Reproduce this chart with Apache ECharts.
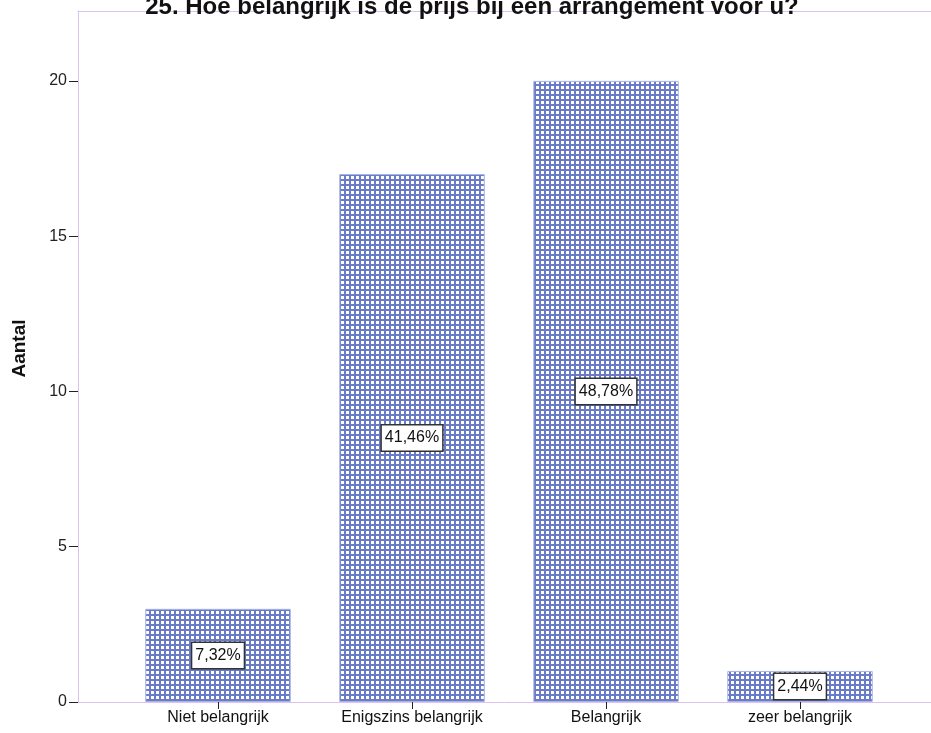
<!DOCTYPE html>
<html>
<head>
<meta charset="utf-8">
<script src="https://cdn.jsdelivr.net/npm/echarts@6/dist/echarts.min.js"></script>
<style>
  html, body { margin: 0; padding: 0; background: #fff; }
  #chart { width: 931px; height: 733px; }
</style>
</head>
<body>
<div id="chart"></div>
<script>
const categories = ["Niet belangrijk", "Enigszins belangrijk", "Belangrijk", "zeer belangrijk"];
const counts = [3, 17, 20, 1];
const percentLabels = ["7,32%", "41,46%", "48,78%", "2,44%"];
const yTicks = [0, 5, 10, 15, 20];

// checkered fill like the SPSS bar pattern
const tile = document.createElement("canvas");
tile.width = 5;
tile.height = 5;
const ctx = tile.getContext("2d");
ctx.fillStyle = "#6a7cc8";
ctx.fillRect(0, 0, 5, 5);
ctx.fillStyle = "#ffffff";
ctx.fillRect(1, 1, 3, 3);

const font = "Liberation Sans";
const frameColor = "#dcc2ee";
const yMax = 22.25;

const chart = echarts.init(document.getElementById("chart"));
chart.setOption({
  animation: false,
  textStyle: { fontFamily: font },
  title: {
    text: "25. Hoe belangrijk is de prijs bij een arrangement voor u?",
    left: 467,
    textAlign: "center",
    top: -10,
    textStyle: { fontFamily: font, fontSize: 24, fontWeight: "bold", color: "#111" },
  },
  grid: [
    { left: 78, right: 0, top: 11, bottom: 31, containLabel: false },
    { left: 121, right: 34, top: 11, bottom: 31, containLabel: false },
  ],
  xAxis: [
    {
      gridIndex: 0, type: "value", min: 0, max: 1, position: "bottom",
      axisLine: { show: true, lineStyle: { color: frameColor } },
      axisTick: { show: false }, axisLabel: { show: false }, splitLine: { show: false },
    },
    {
      gridIndex: 0, type: "value", min: 0, max: 1, position: "top",
      axisLine: { show: true, lineStyle: { color: frameColor } },
      axisTick: { show: false }, axisLabel: { show: false }, splitLine: { show: false },
    },
    {
      gridIndex: 1,
      type: "category",
      data: categories,
      axisLine: { show: false },
      axisTick: { show: true, alignWithLabel: true, length: 7, lineStyle: { color: "#222" } },
      axisLabel: { color: "#111", fontSize: 16, margin: 8 },
    },
  ],
  yAxis: [
    {
      gridIndex: 0,
      type: "value",
      min: 0,
      max: yMax,
      interval: 5,
      name: "Aantal",
      nameLocation: "middle",
      nameGap: 49,
      nameTextStyle: { fontFamily: font, fontSize: 19, fontWeight: "bold", color: "#111", padding: [0, 0, 0, 16] },
      axisLine: { show: true, lineStyle: { color: frameColor } },
      axisTick: { show: true, length: 9, customValues: yTicks, lineStyle: { color: "#222" } },
      axisLabel: { customValues: yTicks, color: "#222", fontSize: 16, margin: 11 },
      splitLine: { show: false },
    },
    { gridIndex: 1, type: "value", min: 0, max: yMax, show: false, splitLine: { show: false } },
  ],
  series: [
    {
      type: "bar",
      xAxisIndex: 2,
      yAxisIndex: 1,
      data: counts,
      barWidth: "75%",
      itemStyle: {
        color: { image: tile, repeat: "repeat" },
        borderColor: "#a8b4e4",
        borderWidth: 1,
      },
      label: {
        show: true,
        position: "inside",
        formatter: (p) => percentLabels[p.dataIndex],
        fontFamily: font,
        fontSize: 16,
        color: "#111",
        backgroundColor: "#fff",
        borderColor: "#333",
        borderWidth: 1.5,
        padding: [5, 3, 4, 3],
      },
    },
  ],
});
</script>
</body>
</html>
